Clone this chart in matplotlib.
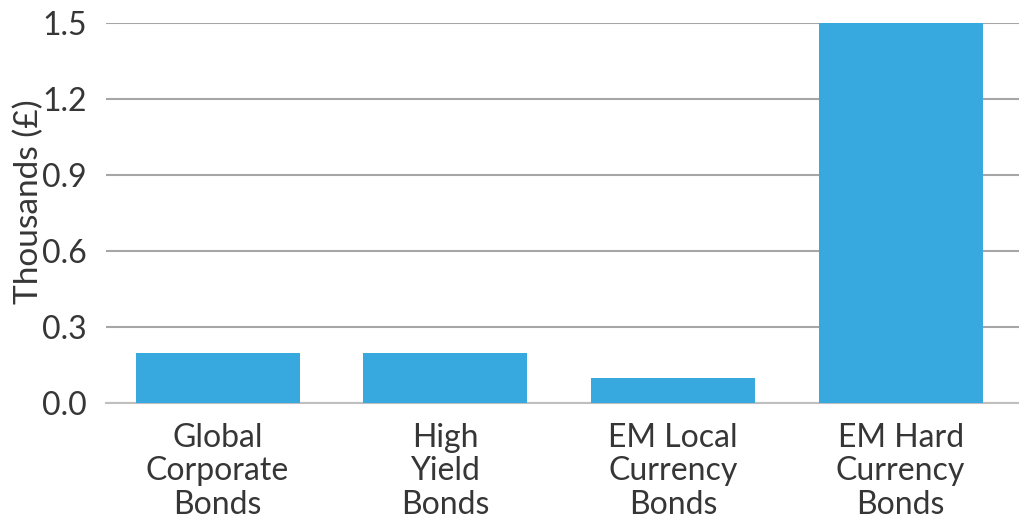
import matplotlib
matplotlib.use("Agg")
import matplotlib.pyplot as plt

categories = ["Global\nCorporate\nBonds", "High\nYield\nBonds", "EM Local\nCurrency\nBonds", "EM Hard\nCurrency\nBonds"]
values = [0.2, 0.2, 0.1, 1.5]
yticks = [0.0, 0.3, 0.6, 0.9, 1.2, 1.5]

plt.rcParams["font.family"] = ["Lato", "DejaVu Sans"]

fig = plt.figure(figsize=(10.19, 5.19), dpi=100)
ax = fig.add_axes([0.104, 0.223, 0.896, 0.733])

x = range(len(categories))
ax.bar(x, values, width=0.72, color="#38a9df", zorder=3)

ax.set_ylim(0, 1.5)
ax.set_xlim(-0.49, 3.52)
ax.set_yticks(yticks)
ax.set_yticklabels([f"{v:.1f}" for v in yticks])
ax.set_xticks(list(x))
ax.set_xticklabels(categories, linespacing=1.15)

ax.yaxis.grid(True, color="#a6a6a6", linewidth=1.5, zorder=0)
ax.set_axisbelow(True)
for s in ["top", "right", "left"]:
    ax.spines[s].set_visible(False)
ax.spines["bottom"].set_color("#bfbfbf")
ax.spines["bottom"].set_linewidth(1.5)
ax.tick_params(axis="both", length=0, labelsize=23, labelcolor="#363636")
ax.tick_params(axis="y", pad=14)
ax.tick_params(axis="x", pad=14)
ax.set_ylabel("Thousands (£)", fontsize=24, color="#363636")
ax.yaxis.set_label_coords(-0.068, 0.53)

fig.savefig("out.png", dpi=100)
